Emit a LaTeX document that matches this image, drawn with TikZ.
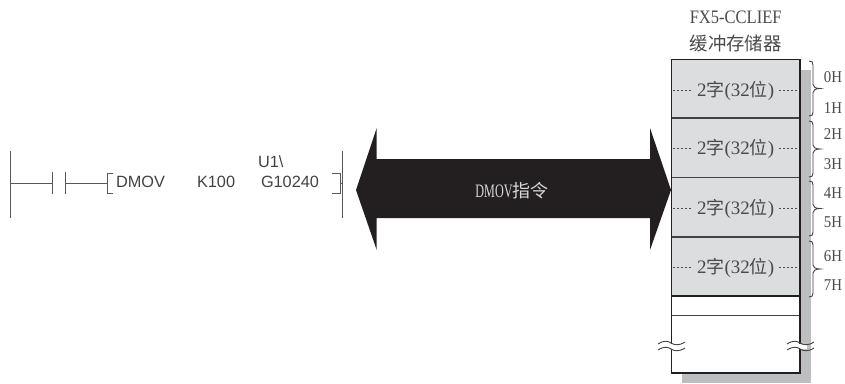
\documentclass[tikz,border=0pt]{standalone}
\usepackage{fontspec}
\setmainfont{Liberation Serif}
\newfontfamily\cjk{Noto Sans CJK SC}
\newfontfamily\lad{Liberation Sans}
\definecolor{ink}{HTML}{231F20}
\definecolor{txt}{HTML}{4A4A4C}
\definecolor{cellgray}{HTML}{DCDDDE}
\definecolor{shadowgray}{HTML}{BCBEC0}
\tikzset{
  every node/.style={inner sep=0pt,outer sep=0pt,text=txt},
  ladderline/.style={draw=ink!75,line width=1pt},
  ladtext/.style={font=\lad\fontsize{16.3}{16}\selectfont,anchor=base west,text=ink!85},
  celltext/.style={font=\fontsize{19}{19}\selectfont},
  addr/.style={font=\fontsize{16.5}{16}\selectfont},
  dots/.style={draw=ink!80,line width=0.9pt,dash pattern=on 2.4pt off 1.6pt},
  wall/.style={draw=ink,line width=1.8pt},
  divider/.style={draw=ink!85,line width=1.2pt},
  bracecurve/.style={draw=ink!85,line width=0.9pt},
  wave/.style={draw=ink!85,line width=0.9pt},
}
\newcommand{\cellword}{2{\cjk\fontsize{18}{18}\selectfont 字}(32{\cjk\fontsize{18}{18}\selectfont 位})}
\begin{document}
\begin{tikzpicture}[x=1pt,y=-1pt]
\useasboundingbox (0,0) rectangle (845,383);
% shadow
\fill[shadowgray] (682,70) rectangle (811,383);
% memory box
\fill[white] (671.5,59.5) rectangle (800,373);
\fill[cellgray] (671.5,59.5) rectangle (800,296);
\foreach \yy in {118,177.7,237}
  \draw[divider] (671.5,\yy) -- (800,\yy);
\draw[wall,line width=1.3pt] (671.5,296) -- (800,296);
\draw[divider] (671.5,315.7) -- (800,315.7);
\draw[wall] (671.5,59.5) rectangle (800,373);
% cells
\foreach \yy/\nm in {90/a,148/b,208/c,267/d}{
  \node[celltext] (cell\nm) at (735.7,\yy+0.7) {\cellword};
  \draw[dots] (673,\yy) -- (692,\yy);
  \draw[dots] (779,\yy) -- (798,\yy);
}
% head
\node[font=\fontsize{19}{19}\selectfont,xscale=0.87] (hdA) at (735.7,17.5) {FX5-CCLIEF};
\node[font=\cjk\fontsize{18.4}{18.4}\selectfont] (hdB) at (735.7,44) {缓冲存储器};
% braces
\foreach \ya/\yb in {61/116,121/177,181/236,241/297}{
  \pgfmathsetmacro{\ym}{(\ya+\yb)/2}
  \draw[bracecurve] (809,\ya) .. controls (812,\ya) and (813,\ya+1) .. (813,\ya+4)
    -- (813,\ym-4) .. controls (813,\ym-2) and (815,\ym) .. (820,\ym)
    .. controls (815,\ym) and (813,\ym+2) .. (813,\ym+4)
    -- (813,\yb-4) .. controls (813,\yb-1) and (812,\yb) .. (809,\yb);
}
% addresses
\foreach \yy/\tx/\nm in {77/0H/a,108/1H/b,134/2H/c,164/3H/d,193/4H/e,222/5H/f,256/6H/g,285/7H/h}
  \node[addr,xscale=0.9] (ad\nm) at (833,\yy) {\tx};
% break marks
\fill[white] (664,344) rectangle (679,349);
\fill[white] (793,344) rectangle (807,349);
\foreach \xa in {658,787}{
  \foreach \yy in {343,349}{
    \draw[wave] (\xa,\yy+1) .. controls (\xa+6,\yy-3) and (\xa+10,\yy-2) .. (\xa+13,\yy)
      .. controls (\xa+16,\yy+2) and (\xa+21,\yy+3) .. (\xa+27,\yy-1);
  }
}
% big arrow
\fill[ink] (356,190) -- (376.7,128) -- (376.7,159) -- (650,159) -- (650,128) -- (671,190)
  -- (650,250) -- (650,218) -- (376.7,218) -- (376.7,250) -- cycle;
\node[text=white!85!black,font=\fontsize{19}{19}\selectfont] (arrowlabel) at (512,191)
  {\scalebox{0.64}[1]{DMOV}{\cjk\fontsize{18}{18}\selectfont 指令}};
% ladder
\coordinate (busLtop) at (10.7,151);
\coordinate (busLbot) at (10.7,218);
\coordinate (busRtop) at (342.7,151);
\coordinate (busRbot) at (342.7,218);
\coordinate (rungL) at (10.7,183.3);
\coordinate (ctA) at (52,183.3);
\coordinate (ctB) at (65.5,183.3);
\coordinate (brL) at (107,183.3);
\coordinate (brR) at (340,183.3);
\coordinate (rungR) at (342.7,183.3);
\draw[ladderline] (busLtop) -- (busLbot);
\draw[ladderline] (busRtop) -- (busRbot);
\draw[ladderline] (rungL) -- (ctA);
\draw[ladderline] (ctB) -- (brL);
\draw[ladderline] (brR) -- (rungR);
\draw[ladderline] ([yshift=-11pt]ctA) -- ([yshift=11pt]ctA);
\draw[ladderline] ([yshift=-11pt]ctB) -- ([yshift=11pt]ctB);
\draw[ladderline] (113,173.5) -- (107,173.5) -- (107,193.5) -- (113,193.5);
\draw[ladderline] (332,173.5) -- (340,173.5) -- (340,193.5) -- (332,193.5);
\node[ladtext] (ldA) at (116,187) {DMOV};
\node[ladtext] (ldB) at (197,187) {K100};
\node[ladtext] (ldC) at (261,187) {G10240};
\node[ladtext] (ldD) at (258,167) {U1\textbackslash};
\end{tikzpicture}
\end{document}
